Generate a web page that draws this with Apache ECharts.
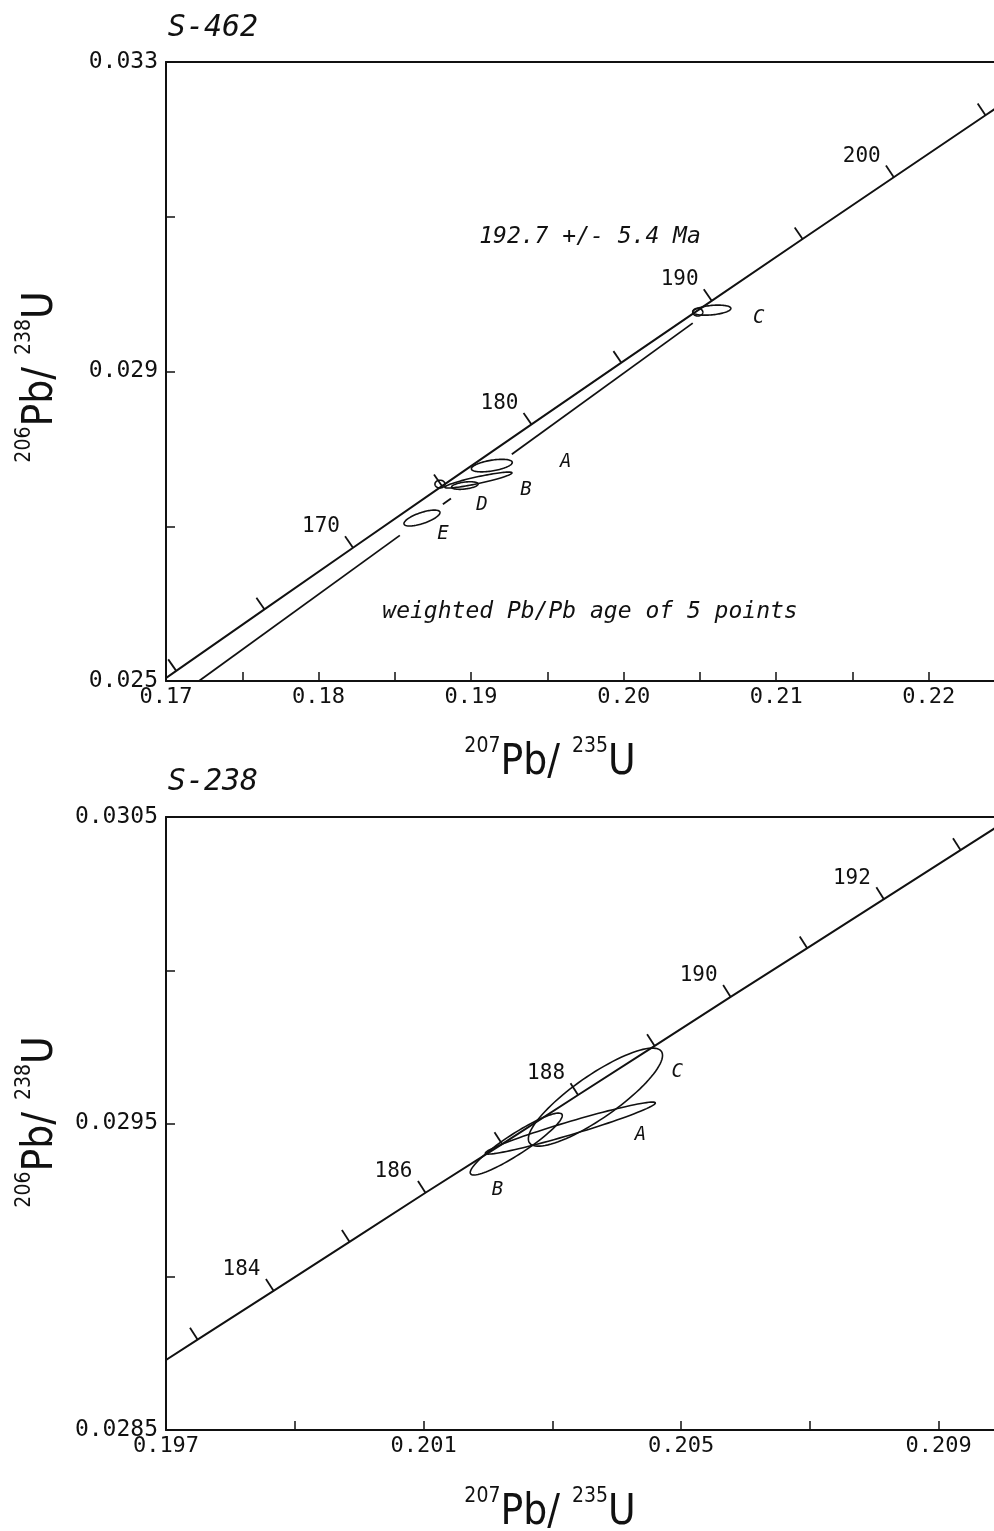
<!DOCTYPE html>
<html><head><meta charset="utf-8">
<script src="https://cdn.jsdelivr.net/npm/echarts@6/dist/echarts.min.js"></script>
<style>html,body{margin:0;padding:0;background:#fff}#c{width:994px;height:1531px}</style>
</head><body><div id="c"></div>
<script>
// ===== Top panel: S-462 =====
const topConcAges = [155,160,165,170,175,180,185,190,195,200,205,210];
const topConcX = [0.16492,0.17067,0.17645,0.18226,0.18809,0.19396,0.19985,0.20577,0.21173,0.21771,0.22372,0.22976];
const topConcY = [0.024336,0.025131,0.025926,0.026722,0.027519,0.028316,0.029114,0.029913,0.030712,0.031511,0.032312,0.033113];
const topTickAges = [160,165,170,175,180,185,190,195,200,205];
const topLabelAges = [170,180,190,200];
const topEllNames = ['A','B','C','D','E','loop1','loop2'];
const topEllCx = [0.19136,0.19048,0.20578,0.18959,0.18678,0.18796,0.20486];
const topEllCy = [0.027784,0.027597,0.029793,0.027526,0.027106,0.027545,0.029767];
const topEllSx = [0.00134,0.00220,0.00125,0.00087,0.00118,0.00033,0.00033];
const topEllSy = [0.000081,0.000103,0.000065,0.000049,0.000103,0.00005,0.00005];
const topEllRho = [0.5,0.9,0.34,0.4,0.69,0,0];
const topLetterNames = ['A','B','C','D','E'];
const topLetterX = [0.19621,0.19359,0.20886,0.19071,0.18815];
const topLetterY = [0.027829,0.027468,0.029690,0.027274,0.026899];
// Pb/Pb age line segments (broken at the ellipses)
const topPbLineX1 = [0.17216,0.18815,0.19267];
const topPbLineY1 = [0.025000,0.027284,0.027930];
const topPbLineX2 = [0.18533,0.18868,0.20453];
const topPbLineY2 = [0.026882,0.027359,0.029625];
const topXTicks = {min:0.17, max:0.225, interval:0.005};
const topYTicks = {min:0.025, max:0.033, interval:0.002};
const topYLabels = [0.025,0.029,0.033];

// ===== Bottom panel: S-238 =====
const botConcAges = [182,183,184,185,186,187,188,189,190,191,192,193,194];
const botConcX = [0.19631,0.19749,0.19867,0.19985,0.20103,0.20222,0.20340,0.20459,0.20577,0.20696,0.20815,0.20934,0.21053];
const botConcY = [0.028635,0.028795,0.028954,0.029114,0.029274,0.029433,0.029593,0.029753,0.029913,0.030072,0.030232,0.030392,0.030551];
const botTickAges = [183,184,185,186,187,188,189,190,191,192,193];
const botLabelAges = [184,186,188,190,192];
const botEllNames = ['A','B','C'];
const botEllCx = [0.20328,0.20244,0.20367];
const botEllCy = [0.029485,0.029433,0.029586];
const botEllSx = [0.00132,0.000715,0.001042];
const botEllSy = [0.0000848,0.000101,0.00016];
const botEllRho = [0.965,0.92,0.85];
const botLetterNames = ['A','B','C'];
const botLetterX = [0.20437,0.20215,0.20494];
const botLetterY = [0.029462,0.029283,0.029668];
const botXTicks = {min:0.197, max:0.210, interval:0.002};
const botYTicks = {min:0.0285, max:0.0305, interval:0.0005};
const botYLabels = [0.0285,0.0295,0.0305];

// ===== Build =====
const INK = '#111';
const numFont = '"DejaVu Sans Mono", monospace';
const monoItalic = '"DejaVu Sans Mono", monospace';

function concSeries(gi, xs, ys){
  return {type:'line', xAxisIndex:gi*2, yAxisIndex:gi, data: xs.map((x,i)=>[x, ys[i]]),
    showSymbol:false, symbol:'none', lineStyle:{color:INK, width:2}, clip:true, silent:true, animation:false};
}
function tickSeries(gi, ages, xs, ys, tickAges, labelAges){
  const data = [], labels = [];
  tickAges.forEach(a=>{
    const i = ages.indexOf(a);
    const j = i+1 < ages.length ? i+1 : i-1;
    data.push([xs[i], ys[i], xs[j], ys[j]]);
    labels.push(labelAges.indexOf(a) >= 0 ? String(a) : '');
  });
  return {type:'custom', xAxisIndex:gi*2, yAxisIndex:gi, data, silent:true, animation:false, clip:false,
    renderItem(params, api){
      const p = api.coord([api.value(0), api.value(1)]);
      const q = api.coord([api.value(2), api.value(3)]);
      let dx = q[0]-p[0], dy = q[1]-p[1];
      const L = Math.hypot(dx, dy); dx/=L; dy/=L;
      if (dx < 0){ dx=-dx; dy=-dy; }
      const nx = dy, ny = -dx;
      const children = [{type:'line', shape:{x1:p[0], y1:p[1], x2:p[0]+14*nx, y2:p[1]+14*ny},
        style:{stroke:INK, lineWidth:1.8}}];
      const lab = labels[params.dataIndex];
      if (lab) children.push({type:'text', style:{text:lab, x:p[0]-32, y:p[1]-21, align:'center', verticalAlign:'middle',
        fill:INK, font:'21px '+numFont}});
      return {type:'group', children};
    }};
}
function ellipseSeries(gi, cx, cy, sx, sy, rho){
  return {type:'custom', xAxisIndex:gi*2, yAxisIndex:gi, silent:true, animation:false, clip:true,
    data: cx.map((x,i)=>[x, cy[i], sx[i], sy[i], rho[i]]),
    renderItem(params, api){
      const x0=api.value(0), y0=api.value(1), a=api.value(2), b=api.value(3), r=api.value(4);
      const s = Math.sqrt(1-r*r), pts=[];
      for (let k=0;k<96;k++){
        const t = k/96*2*Math.PI;
        pts.push(api.coord([x0 + a*Math.cos(t), y0 + b*(r*Math.cos(t) + s*Math.sin(t))]));
      }
      return {type:'polygon', shape:{points:pts}, style:{fill:'none', stroke:INK, lineWidth:1.6}};
    }};
}
function letterSeries(gi, names, xs, ys){
  return {type:'custom', xAxisIndex:gi*2, yAxisIndex:gi, silent:true, animation:false, clip:false,
    data: xs.map((x,i)=>[x, ys[i]]),
    renderItem(params, api){
      const p = api.coord([api.value(0), api.value(1)]);
      return {type:'text', style:{text:names[params.dataIndex], x:p[0], y:p[1], align:'center', verticalAlign:'middle',
        fill:INK, font:'italic 19px '+monoItalic}};
    }};
}
function xAxes(gi, t, fmt){
  return [
    {type:'value', gridIndex:gi, position:'bottom', min:t.min, max:t.max, interval:t.interval,
      axisLine:{show:true, onZero:false, lineStyle:{color:INK, width:2}},
      axisTick:{show:true, inside:true, length:9, lineStyle:{color:INK, width:1.5}},
      splitLine:{show:false},
      axisLabel:{show:true, margin:5, color:INK, fontFamily:numFont, fontSize:22, formatter:fmt, showMinLabel:true, showMaxLabel:true, hideOverlap:false}},
    {type:'value', gridIndex:gi, position:'top', min:t.min, max:t.max,
      axisLine:{show:true, onZero:false, lineStyle:{color:INK, width:2}},
      axisTick:{show:false}, axisLabel:{show:false}, splitLine:{show:false}}
  ];
}
function yAxis(gi, t, fmt){
  return {type:'value', gridIndex:gi, position:'left', min:t.min, max:t.max, interval:t.interval,
    axisLine:{show:true, onZero:false, lineStyle:{color:INK, width:2}},
    axisTick:{show:true, inside:true, length:9, lineStyle:{color:INK, width:1.5}},
    splitLine:{show:false},
    axisLabel:{show:true, margin:8, color:INK, fontFamily:numFont, fontSize:23, formatter:fmt, showMinLabel:true, showMaxLabel:true, hideOverlap:false}};
}
const near = (v, list) => list.some(u => Math.abs(u - v) < 1e-9);

const option = {
  backgroundColor:'#fff',
  animation:false,
  grid:[
    {left:166, top:62, width:839, height:619, containLabel:false, outerBoundsMode:'none'},
    {left:166, top:817, width:837, height:613, containLabel:false, outerBoundsMode:'none'}
  ],
  xAxis:[
    ...xAxes(0, topXTicks, v => { const k = Math.round(v*1000); return k % 10 === 0 ? (k/1000).toFixed(2) : ''; }),
    ...xAxes(1, botXTicks, v => { const k = Math.round(v*1000); return (k-197) % 4 === 0 ? (k/1000).toFixed(3) : ''; })
  ],
  yAxis:[
    yAxis(0, topYTicks, v => near(v, topYLabels) ? v.toFixed(3) : ''),
    yAxis(1, botYTicks, v => near(v, botYLabels) ? v.toFixed(4) : '')
  ],
  series:[
    concSeries(0, topConcX, topConcY),
    {type:'lines', coordinateSystem:'cartesian2d', xAxisIndex:0, yAxisIndex:0, silent:true, animation:false,
      data: topPbLineX1.map((x,i)=>({coords:[[x, topPbLineY1[i]],[topPbLineX2[i], topPbLineY2[i]]]})),
      lineStyle:{color:INK, width:1.8, opacity:1}},
    tickSeries(0, topConcAges, topConcX, topConcY, topTickAges, topLabelAges),
    ellipseSeries(0, topEllCx, topEllCy, topEllSx, topEllSy, topEllRho),
    letterSeries(0, topLetterNames, topLetterX, topLetterY),
    concSeries(1, botConcX, botConcY),
    tickSeries(1, botConcAges, botConcX, botConcY, botTickAges, botLabelAges),
    ellipseSeries(1, botEllCx, botEllCy, botEllSx, botEllSy, botEllRho),
    letterSeries(1, botLetterNames, botLetterX, botLetterY)
  ],
  graphic:[]
};

const nameFont = '"DejaVu Sans Condensed", "Liberation Sans Narrow", sans-serif';
const nameRich = {
  sup:{fontSize:21, lineHeight:20, verticalAlign:'top', fontFamily:nameFont, fontWeight:200, fill:INK, color:INK},
  m:{fontSize:42, lineHeight:48, verticalAlign:'bottom', fontFamily:nameFont, fontWeight:200, fill:INK, color:INK}
};
function axisName(x, y, rot, a, b){
  return {type:'text', x, y, rotation:rot, silent:true,
    style:{text:'{sup|'+a+'}{m|Pb/ }{sup|'+b+'}{m|U}', rich:nameRich, align:'center', verticalAlign:'middle', fill:INK}};
}
function label(x, y, text, size){
  return {type:'text', x, y, silent:true,
    style:{text, align:'center', verticalAlign:'middle', fill:INK, font:'italic '+size+'px '+monoItalic}};
}
option.graphic = [
  label(213, 28, 'S-462', 30),
  label(213, 782, 'S-238', 30),
  label(590, 237, '192.7 +/- 5.4 Ma', 23),
  label(590, 612, 'weighted Pb/Pb age of 5 points', 23),
  axisName(550, 760, 0, '207', '235'),
  axisName(550, 1510, 0, '207', '235'),
  axisName(38, 377, Math.PI/2, '206', '238'),
  axisName(38, 1122, Math.PI/2, '206', '238')
];

const chart = echarts.init(document.getElementById('c'), null, {renderer:'canvas'});
chart.setOption(option);
</script>
</body></html>
